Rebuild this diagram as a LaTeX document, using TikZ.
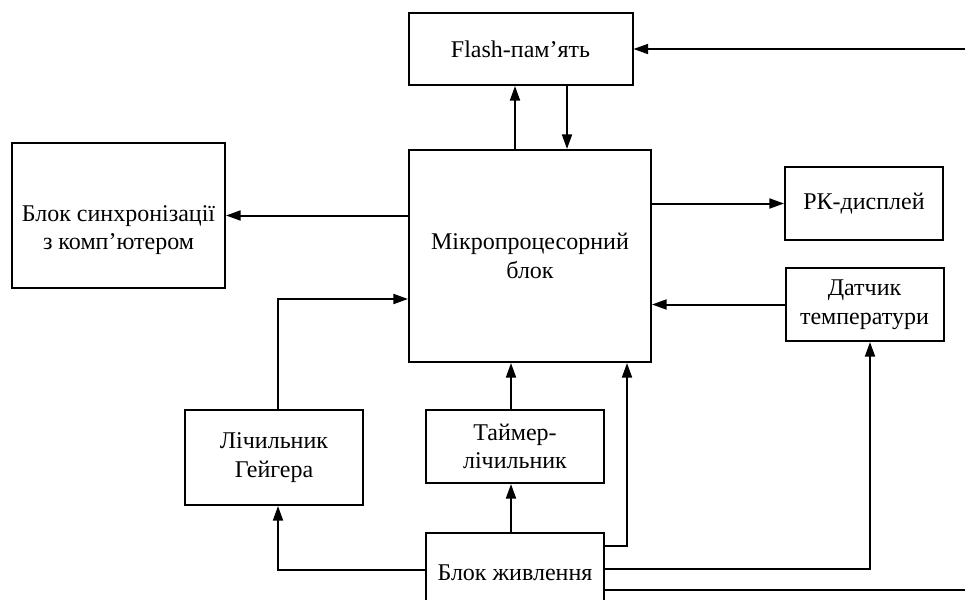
\documentclass[tikz,border=0pt]{standalone}
\usepackage{fontspec}
\setmainfont{Liberation Serif}
\usetikzlibrary{arrows.meta, positioning, calc}

\begin{document}
\begin{tikzpicture}[
    x=0.75pt, y=-0.75pt,
    blk/.style={draw, line width=1.5pt, align=center, inner sep=0pt, font=\fontsize{18}{21.5}\selectfont},
    conn/.style={line width=1.5pt, -{Triangle[length=11pt, width=7.5pt]}},
    wire/.style={line width=1.5pt},
]
    \useasboundingbox (0,0) rectangle (965,600);

    \node[blk, minimum width=168pt, minimum height=54pt] (flash) at (520.5, 49) {Flash-пам’ять};
    \node[blk, minimum width=181.5pt, minimum height=159pt] (micro) at (530, 256) {Мікропроцесорний\\блок};
    \node[blk, minimum width=159.75pt, minimum height=108.75pt,
        label={[align=center, font=\fontsize{18}{21.5}\selectfont, yshift=-11pt]center:Блок синхронізації\\з комп’ютером}] (sync) at (118.5, 215.5) {};
    \node[blk, minimum width=118.5pt, minimum height=54.75pt] (rk) at (864, 203.5) {РК-дисплей};
    \node[blk, minimum width=118.5pt, minimum height=54.75pt] (temp) at (864.5, 304.5) {Датчик\\температури};
    \node[blk, minimum width=133.5pt, minimum height=71.25pt] (geiger) at (274, 457.5) {Лічильник\\Гейгера};
    \node[blk, minimum width=133.5pt, minimum height=54.75pt] (timer) at (515, 446.5) {Таймер-\\лічильник};
    \node[blk, minimum width=133.5pt, minimum height=60pt] (power) at (515, 573) {Блок живлення};

    \coordinate (edgehi) at (965, 49);
    \coordinate (edgelo) at (965, 590);
    \coordinate (tn) at ($(timer.north)+(-4,0)$);

    % flash <-> micro
    \draw[conn] ($(micro.north)+(-15,0)$) -- ($(flash.south)+(-5.5,0)$);
    \draw[conn] ($(flash.south)+(46.5,0)$) -- ($(micro.north)+(37,0)$);
    \draw[conn] (edgehi) -- (flash.east);

    % outputs of micro
    \draw[conn] (micro.west |- sync.east) -- (sync.east);
    \draw[conn] (micro.east |- rk.west) -- (rk.west);

    % inputs of micro
    \draw[conn] (temp.west) -- (micro.east |- temp.west);
    \draw[conn] ($(geiger.north)+(4,0)$) |- ($(micro.west)+(0,43)$);
    \draw[conn] (tn) -- (tn |- micro.south);

    % power supply
    \draw[conn] ($(power.north)+(-4,0)$) -- ($(timer.south)+(-4,0)$);
    \draw[conn] ($(power.west)+(0,-3)$) -| ($(geiger.south)+(4,0)$);
    \draw[conn] ($(power.east)+(0,-27)$) -| ($(micro.south)+(97,0)$);
    \draw[conn] ($(power.east)+(0,-4)$) -| ($(temp.south)+(5.5,0)$);
    \draw[wire] ($(power.east)+(0,17)$) -- (edgelo);
\end{tikzpicture}
\end{document}
